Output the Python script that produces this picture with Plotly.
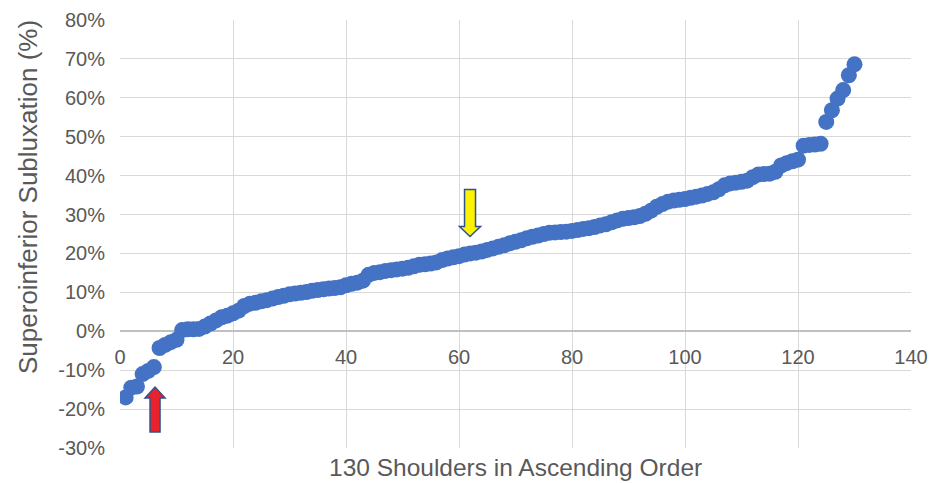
import plotly.graph_objects as go

# ---- data ----
shoulder_index = list(range(1, 131))
subluxation_pct = [
    -17.0, -14.5, -14.2, -11.0, -10.2, -9.2, -4.3, -3.5, -2.8, -2.2,
    0.3, 0.5, 0.5, 0.6, 1.2, 2.0, 2.8, 3.6, 4.0, 4.6,
    5.3, 6.5, 7.1, 7.3, 7.7, 8.0, 8.4, 8.8, 9.1, 9.5,
    9.7, 9.9, 10.1, 10.4, 10.6, 10.8, 11.0, 11.1, 11.3, 11.8,
    12.2, 12.5, 13.0, 14.5, 15.0, 15.2, 15.5, 15.7, 15.9, 16.1,
    16.3, 16.7, 17.1, 17.2, 17.4, 17.7, 18.3, 18.7, 19.0, 19.3,
    19.7, 20.0, 20.2, 20.5, 20.9, 21.3, 21.7, 22.1, 22.6, 23.0,
    23.4, 23.9, 24.3, 24.6, 25.0, 25.3, 25.4, 25.5, 25.6, 25.8,
    26.0, 26.3, 26.5, 26.8, 27.2, 27.5, 28.0, 28.5, 28.9, 29.1,
    29.3, 29.6, 30.2, 31.0, 32.0, 32.7, 33.3, 33.6, 33.8, 34.0,
    34.3, 34.6, 34.9, 35.3, 35.7, 36.5, 37.5, 38.0, 38.2, 38.4,
    38.7, 39.6, 40.3, 40.4, 40.5, 41.0, 42.6, 43.2, 43.7, 44.1,
    47.7, 47.9, 48.0, 48.2, 53.8, 56.8, 59.8, 62.0, 65.8, 68.6,
]
x_tick_vals = [0, 20, 40, 60, 80, 100, 120, 140]
y_tick_vals = [-30, -20, -10, 0, 10, 20, 30, 40, 50, 60, 70, 80]
y_tick_labels = [f"{v}%" for v in y_tick_vals]
x_title = "130 Shoulders in Ascending Order"
y_title = "Superoinferior Subluxation (%)"

# highlighted shoulders (arrows)
red_arrow_shoulder = 6
yellow_arrow_shoulder = 62

# ---- layout geometry ----
W, H = 932, 483
ML, MR, MT, MB = 120, 21, 20, 35
x_range = [0, 140]
y_range = [-30, 80]
plot_w = W - ML - MR
plot_h = H - MT - MB
ux = plot_w / (x_range[1] - x_range[0])   # px per x unit
uy = plot_h / (y_range[1] - y_range[0])   # px per y unit

FONT = "Liberation Sans"
TXT = "#595959"

fig = go.Figure()
fig.add_trace(go.Scatter(
    x=shoulder_index, y=subluxation_pct, mode="markers",
    marker=dict(size=16, color="#4472C4", line=dict(width=0)),
    hoverinfo="x+y", showlegend=False,
))


def block_arrow(xc, y_tail, y_tip, head_len_px, shaft_px, head_px):
    """Block arrow in data coords; sizes in px converted via the axis scale."""
    s = shaft_px / 2 / ux
    h = head_px / 2 / ux
    d = 1 if y_tip > y_tail else -1
    y_head = y_tip - d * head_len_px / uy
    pts = [(xc - s, y_tail), (xc - s, y_head), (xc - h, y_head), (xc, y_tip),
           (xc + h, y_head), (xc + s, y_head), (xc + s, y_tail)]
    return "M " + " L ".join(f"{px},{py}" for px, py in pts) + " Z"


# red arrow (pointing up, below shoulder 6)
r_val = subluxation_pct[red_arrow_shoulder - 1]
r_x = red_arrow_shoulder + 0.2
r_tip = r_val - 20 / uy
r_tail = r_tip - 45 / uy
fig.add_shape(type="path", xref="x", yref="y",
              path=block_arrow(r_x, r_tail, r_tip, 11, 10, 20),
              fillcolor="#E8232B", line=dict(color="#2F528F", width=1.5), layer="above")

# yellow arrow (pointing down, above shoulder 62)
y_val = subluxation_pct[yellow_arrow_shoulder - 1]
y_x = yellow_arrow_shoulder - 0.05
y_tip = y_val + 17 / uy
y_tail = y_tip + 47 / uy
fig.add_shape(type="path", xref="x", yref="y",
              path=block_arrow(y_x, y_tail, y_tip, 10, 11, 21),
              fillcolor="#FFF200", line=dict(color="#2F528F", width=1.5), layer="above")

x_axis_pos = (0 - y_range[0]) / (y_range[1] - y_range[0])

fig.update_layout(
    width=W, height=H,
    margin=dict(l=ML, r=MR, t=MT, b=MB, pad=0, autoexpand=False),
    paper_bgcolor="white", plot_bgcolor="white",
    font=dict(family=FONT, color=TXT, size=20),
    xaxis=dict(
        range=x_range, tickvals=x_tick_vals, ticktext=[str(v) for v in x_tick_vals],
        showgrid=True, gridcolor="#D9D9D9", gridwidth=1,
        zeroline=False, showline=False, ticks="",
        anchor="free", position=x_axis_pos, automargin=False,
        tickfont=dict(family=FONT, color=TXT, size=20),
        ticklabelstandoff=12,
    ),
    yaxis=dict(
        range=y_range, tickvals=y_tick_vals, ticktext=y_tick_labels,
        showgrid=True, gridcolor="#D9D9D9", gridwidth=1,
        zeroline=True, zerolinecolor="#BFBFBF", zerolinewidth=2,
        showline=False, ticks="", automargin=False,
        tickfont=dict(family=FONT, color=TXT, size=20),
        ticklabelstandoff=14,
    ),
    annotations=[
        dict(text=x_title, xref="paper", yref="paper", x=0.5, y=0,
             yshift=-19, xanchor="center", yanchor="middle", showarrow=False,
             font=dict(family=FONT, color=TXT, size=24.5)),
        dict(text=y_title, xref="paper", yref="paper", x=0, y=(H - MB - 197) / plot_h,
             xshift=-92, textangle=-90, xanchor="center", yanchor="middle",
             showarrow=False, font=dict(family=FONT, color=TXT, size=26)),
    ],
)

fig.write_html("out.html", config={"displayModeBar": False},
               post_script="document.body.style.margin='0';document.body.style.overflow='hidden';")
